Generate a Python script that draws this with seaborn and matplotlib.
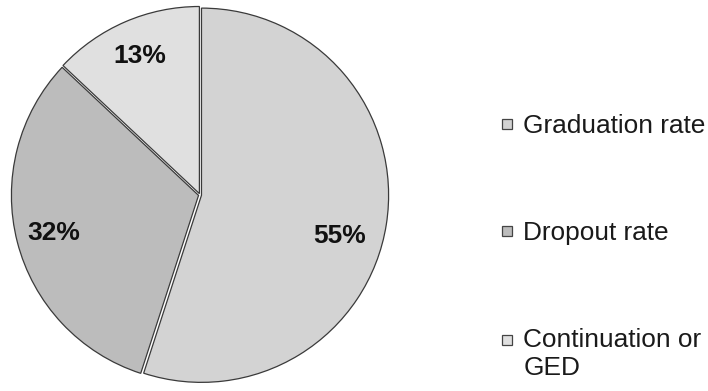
import matplotlib
matplotlib.use("Agg")
import matplotlib.pyplot as plt
from matplotlib.lines import Line2D
from matplotlib.legend_handler import HandlerLine2D
import seaborn as sns

# Outcome shares for the cohort
categories = ["Graduation rate", "Dropout rate", "Continuation or\nGED"]
shares = [55, 32, 13]

sns.set_theme(style="white")
plt.rcParams["font.family"] = ["Liberation Sans", "DejaVu Sans"]

# Stipple-like gray tones for each slice
fills = ["#d3d3d3", "#bcbcbc", "#e0e0e0"]


class FirstLineHandler(HandlerLine2D):
    """Square marker lifted to sit beside the first line of a wrapped label."""

    def __init__(self, lift, **kw):
        super().__init__(**kw)
        self.lift = lift

    def create_artists(self, legend, orig_handle, xdescent, ydescent,
                       width, height, fontsize, trans):
        arts = super().create_artists(legend, orig_handle, xdescent, ydescent,
                                      width, height, fontsize, trans)
        for a in arts:
            a.set_ydata([y + self.lift for y in a.get_ydata()])
        return arts


fig = plt.figure(figsize=(7.08, 3.91), dpi=100)
ax = fig.add_axes([11 / 708, 5 / 391, 378 / 708, 382 / 391])

wedges, texts, autotexts = ax.pie(
    shares,
    startangle=90,
    counterclock=False,
    colors=fills,
    explode=[0.008, 0.008, 0.008],
    autopct=lambda p: f"{p:.0f}%",
    pctdistance=0.8,
    wedgeprops=dict(edgecolor="#3a3a3a", linewidth=0.9),
    textprops=dict(fontsize=19, fontweight="bold", color="#111111"),
)
# the large slice's label sits a little lower than its mid-angle
autotexts[0].set_position((0.745, -0.22))

ax.set_xlim(-1.01, 1.01)
ax.set_ylim(-1.01, 1.01)
ax.set_aspect("equal")
ax.axis("off")

handles = [
    Line2D([], [], linestyle="none", marker="s", markersize=6.5,
           markerfacecolor=c, markeredgecolor="#444444", markeredgewidth=0.9)
    for c in fills
]
fig.legend(
    handles, categories,
    loc="upper left",
    bbox_to_anchor=(499.6 / 708, 1 - 114 / 391),
    frameon=False,
    fontsize=18.9,
    handlelength=0.6,
    handletextpad=0.3,
    borderpad=0,
    borderaxespad=0,
    labelspacing=3.17,
    labelcolor="#1a1a1a",
    handler_map={handles[2]: FirstLineHandler(lift=10.4)},
)

fig.savefig("out.png", dpi=100, facecolor="white")
